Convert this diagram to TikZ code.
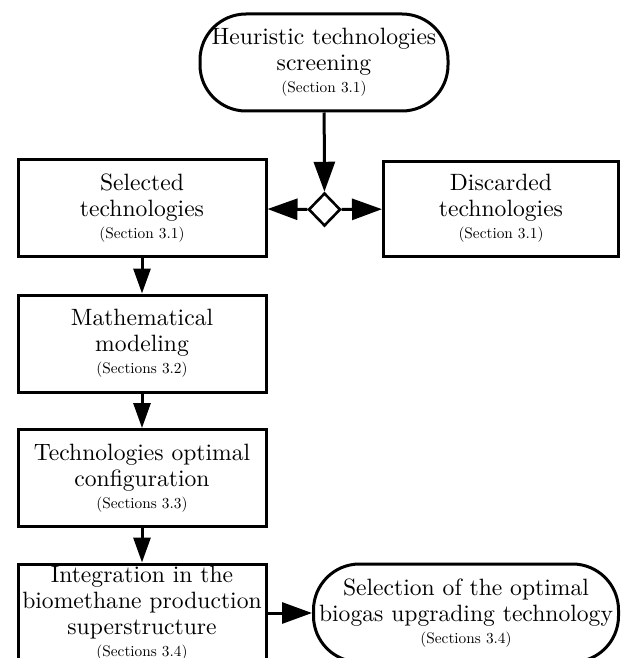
\documentclass[tikz,border=0pt]{standalone}
\usepackage{fontspec}
\setmainfont{lmroman10-regular}[Extension=.otf]
\usetikzlibrary{shapes.geometric,arrows.meta}
\newcommand{\mainsz}{\fontsize{23.6}{26}\selectfont}
\newcommand{\secsz}{\fontsize{15.3}{18}\selectfont}
\begin{document}
\begin{tikzpicture}[x=1pt,y=-1pt,
  every node/.style={align=center,font=\mainsz,inner sep=0pt,line width=3pt},
  procbox/.style={draw,rectangle,minimum width=248pt,minimum height=97pt},
  termbox/.style={draw,rectangle,rounded corners=46pt,minimum height=97pt},
  decbox/.style={draw,diamond,minimum width=32pt,minimum height=33pt,line width=2.6pt},
  bigarrow/.style={line width=3pt,-{Triangle[length=30pt,width=21pt]}},
  smallarrow/.style={line width=3pt,-{Triangle[length=25pt,width=17pt]}}]
\useasboundingbox (0,0) rectangle (623,658);
\clip (0,0) rectangle (623,658);
\node[termbox,minimum width=248pt] (top) at (324,62.5) {Heuristic technologies\\screening\\[-4pt]{\secsz (Section 3.1)}};
\node[decbox] (dec) at (324.5,209.5) {};
\node[procbox] (sel) at (142,208) {Selected\\technologies\\[-4pt]{\secsz (Section 3.1)}};
\node[procbox,minimum width=235pt,minimum height=95pt] (dis) at (501,208.5) {Discarded\\technologies\\[-4pt]{\secsz (Section 3.1)}};
\node[procbox] (math) at (142,343.5) {Mathematical\\modeling\\[-4pt]{\secsz (Sections 3.2)}};
\node[procbox] (tech) at (142,478) {Technologies optimal\\configuration\\[-4pt]{\secsz (Sections 3.3)}};
\node[procbox,minimum height=98pt] (integ) at (142,613) {Integration in the\\biomethane production\\superstructure\\[-4pt]{\secsz (Sections 3.4)}};
\node[termbox,minimum width=305pt,minimum height=98pt] (final) at (466,613) {Selection of the optimal\\biogas upgrading technology\\[-4pt]{\secsz (Sections 3.4)}};
\draw[bigarrow] (top) -- (dec);
\draw[bigarrow] (dec) -- (sel);
\draw[bigarrow] (dec) -- (dis);
\draw[smallarrow] (sel) -- (math);
\draw[smallarrow] (math) -- (tech);
\draw[smallarrow] (tech) -- (integ);
\draw[bigarrow] (integ) -- (final);
\end{tikzpicture}
\end{document}
